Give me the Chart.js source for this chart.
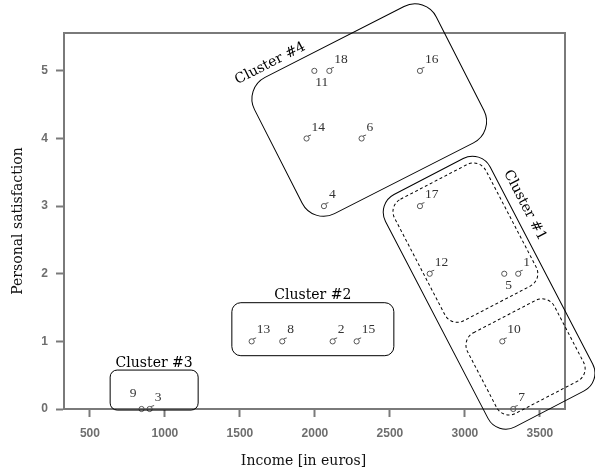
<!DOCTYPE html>
<html>
<head>
<meta charset="utf-8">
<title>Income vs personal satisfaction</title>
<script src="https://cdn.jsdelivr.net/npm/chart.js@4.4.1/dist/chart.umd.min.js"></script>
<style>
  html, body { margin: 0; padding: 0; background: #fff; }
  #wrap { width: 595px; height: 470px; }
</style>
</head>
<body>
<div id="wrap"><canvas id="c" width="595" height="470"></canvas></div>
<script>
// Respondents: case number, monthly income and satisfaction score
const caseIds      = ['1', '2', '3', '4', '5', '6', '7', '8', '9', '10', '11', '12', '13', '14', '15', '16', '17', '18'];
const incomeEuros  = [3355, 2118, 898, 2060, 3262, 2311, 3322, 1782, 844, 3249, 1996, 2765, 1578, 1944, 2278, 2700, 2700, 2096];
const satisfaction = [2, 1, 0, 3, 2, 4, 0, 1, 0, 1, 5, 2, 1, 4, 1, 5, 3, 5];

const xTicks = [500, 1000, 1500, 2000, 2500, 3000, 3500];
const yTicks = [0, 1, 2, 3, 4, 5];

const xTitle = 'Income [in euros]';
const yTitle = 'Personal satisfaction';
const clusterNames = ['Cluster #1', 'Cluster #2', 'Cluster #3', 'Cluster #4'];

const axisGrey = '#7a7a7a';
const tickFont = { family: 'Liberation Sans', size: 12, weight: 'bold' };

// Outlines around each group: centre in data units, size in pixels, rotation in degrees
const clusterShapes = [
  { name: clusterNames[0], cx: 3161, cy: 1.72, w: 118, h: 262, angle: -27.5, r: 20,
    label: { u: 72, v: -61, rot: 90, baseline: 'middle' } },
  { cx: 3003, cy: 2.46, w: 103, h: 137, angle: -27.5, r: 14, dashed: true },
  { cx: 3404, cy: 0.77, w: 98, h: 91, angle: -27.5, r: 14, dashed: true },
  { name: clusterNames[1], cx: 1986, cy: 1.18, w: 162, h: 53, angle: 0, r: 9,
    label: { u: 0, v: -30.5, rot: 0, baseline: 'alphabetic' } },
  { name: clusterNames[2], cx: 928, cy: 0.28, w: 88, h: 40, angle: 0, r: 7,
    label: { u: 0, v: -23.5, rot: 0, baseline: 'alphabetic' } },
  { name: clusterNames[3], cx: 2362, cy: 4.42, w: 204, h: 153, angle: -27, r: 24,
    label: { u: -67, v: -86.5, rot: 0, baseline: 'middle' } }
];

// Top and right sides of the plot frame, plus the income axis caption
const plotFrame = {
  id: 'plotFrame',
  beforeDatasetsDraw(chart) {
    const { ctx, chartArea: a } = chart;
    ctx.save();
    ctx.strokeStyle = axisGrey;
    ctx.lineWidth = 2;
    ctx.beginPath();
    ctx.moveTo(a.left - 1, a.top);
    ctx.lineTo(a.right, a.top);
    ctx.lineTo(a.right, a.bottom + 1);
    ctx.stroke();

    ctx.font = '14px "DejaVu Serif"';
    ctx.fillStyle = '#111';
    ctx.textAlign = 'center';
    ctx.textBaseline = 'alphabetic';
    ctx.fillText(xTitle, (a.left + a.right) / 2 - 11, chart.height - 5);
    ctx.restore();
  }
};

// Case numbers next to each marker
const caseLabels = {
  id: 'caseLabels',
  afterDatasetsDraw(chart, args, opts) {
    const { ctx } = chart;
    const meta = chart.getDatasetMeta(0);
    ctx.save();
    ctx.font = '13.5px "Liberation Serif"';
    ctx.fillStyle = '#333';
    ctx.strokeStyle = '#555';
    ctx.lineWidth = 1;
    meta.data.forEach((pt, i) => {
      const id = caseIds[i];
      const place = opts.placement[id] || 'upperRight';
      const { x, y } = pt;
      ctx.textBaseline = 'middle';
      if (place === 'below') {
        ctx.textAlign = 'left';
        ctx.fillText(id, x + 1, y + 11.5);
      } else if (place === 'upperLeft') {
        ctx.textAlign = 'right';
        ctx.fillText(id, x - 5, y - 16);
      } else {
        ctx.beginPath();
        ctx.moveTo(x + 1.5, y - 2.5);
        ctx.lineTo(x + 4.5, y - 3.5);
        ctx.stroke();
        ctx.textAlign = 'left';
        ctx.fillText(id, x + 5, y - 11.5);
      }
    });
    ctx.restore();
  }
};

// Rounded outlines and their names
const clusterOutlines = {
  id: 'clusterOutlines',
  afterDraw(chart, args, opts) {
    const { ctx, scales: { x, y } } = chart;
    opts.shapes.forEach(s => {
      const px = x.getPixelForValue(s.cx);
      const py = y.getPixelForValue(s.cy);
      ctx.save();
      ctx.translate(px, py);
      ctx.rotate(s.angle * Math.PI / 180);
      ctx.beginPath();
      ctx.roundRect(-s.w / 2, -s.h / 2, s.w, s.h, s.r);
      ctx.setLineDash(s.dashed ? [3, 2.5] : []);
      ctx.lineWidth = 1;
      ctx.strokeStyle = '#000';
      ctx.stroke();
      if (s.name && s.label) {
        ctx.setLineDash([]);
        ctx.translate(s.label.u, s.label.v);
        ctx.rotate(s.label.rot * Math.PI / 180);
        ctx.font = '14px "DejaVu Serif"';
        ctx.fillStyle = '#000';
        ctx.textAlign = 'center';
        ctx.textBaseline = s.label.baseline;
        ctx.fillText(s.name, 0, 0);
      }
      ctx.restore();
    });
  }
};

const points = incomeEuros.map((v, i) => ({ x: v, y: satisfaction[i] }));

new Chart(document.getElementById('c'), {
  type: 'scatter',
  data: {
    datasets: [{
      data: points,
      pointStyle: 'circle',
      pointRadius: 2.6,
      pointBorderWidth: 1,
      pointBorderColor: '#555',
      pointBackgroundColor: 'rgba(255,255,255,0)',
      clip: false
    }]
  },
  options: {
    responsive: false,
    animation: false,
    devicePixelRatio: 1,
    layout: { padding: { top: 33, right: 30, left: 0, bottom: 0 } },
    plugins: {
      legend: { display: false },
      tooltip: { enabled: false },
      caseLabels: { placement: { '11': 'below', '5': 'below', '9': 'upperLeft' } },
      clusterOutlines: { shapes: clusterShapes }
    },
    scales: {
      x: {
        type: 'linear',
        min: 327,
        max: 3667,
        afterBuildTicks: s => { s.ticks = xTicks.map(v => ({ value: v })); },
        afterFit: s => { s.height = 61; },
        grid: { drawOnChartArea: false, drawTicks: true, tickLength: 8, tickWidth: 2, tickColor: axisGrey, color: axisGrey },
        border: { display: true, color: axisGrey, width: 2 },
        ticks: { font: tickFont, color: '#6e6e6e', padding: 9, maxRotation: 0, autoSkip: false, callback: v => String(v) }
      },
      y: {
        type: 'linear',
        min: 0,
        max: 5.56,
        afterBuildTicks: s => { s.ticks = yTicks.map(v => ({ value: v })); },
        afterFit: s => { s.width = 64; },
        grid: { drawOnChartArea: false, drawTicks: true, tickLength: 8, tickWidth: 2, tickColor: axisGrey, color: axisGrey },
        border: { display: true, color: axisGrey, width: 2 },
        ticks: { font: tickFont, color: '#6e6e6e', padding: 8, callback: v => String(v) },
        title: { display: true, text: yTitle, font: { family: 'DejaVu Serif', size: 14 }, color: '#111', padding: { top: 10, bottom: 0 } }
      }
    }
  },
  plugins: [plotFrame, caseLabels, clusterOutlines]
});
</script>
</body>
</html>
